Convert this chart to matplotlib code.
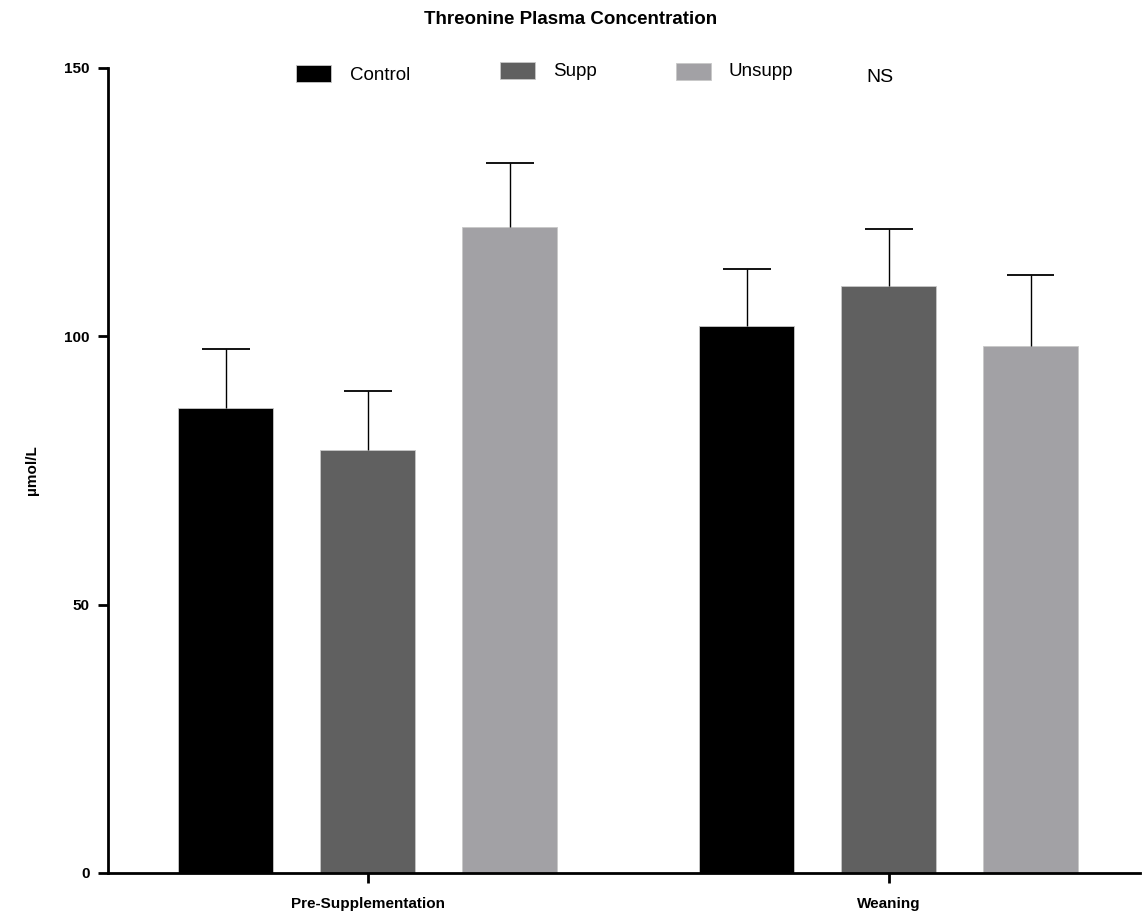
import matplotlib.pyplot as plt
import numpy as np
from matplotlib.patches import Rectangle

plt.rcParams["font.family"] = ["Liberation Sans", "DejaVu Sans"]

# Data
groups = ["Pre-Supplementation", "Weaning"]
series = ["Control", "Supp", "Unsupp"]
means = {
    "Control": [86.6, 101.9],
    "Supp": [78.8, 109.4],
    "Unsupp": [120.4, 98.2],
}
errors = {
    "Control": [11.0, 10.6],
    "Supp": [11.0, 10.6],
    "Unsupp": [11.9, 13.2],
}
colors = {"Control": "#000000", "Supp": "#606060", "Unsupp": "#a2a1a5"}

W, H = 1142, 917
fig = plt.figure(figsize=(W / 100, H / 100), dpi=100)
ax = fig.add_axes([108 / W, 44 / H, 1032 / W, 805 / H])

centers = np.array([0.0, 3.67])
width = 0.67
for i, s in enumerate(series):
    x = centers + (i - 1) * 1.0
    y = np.array(means[s])
    top = y + np.array(errors[s])
    ax.bar(x, y, width=width, color=colors[s], edgecolor="#c8c8c8",
           linewidth=0.6, zorder=2)
    # upper-only error bars
    ax.vlines(x, y, top, color="black", linewidth=1.0, zorder=3)
    ax.hlines(top, x - width / 4, x + width / 4, color="black", linewidth=1.3, zorder=3)

ax.set_xlim(-1.83, 5.44)
ax.set_ylim(0, 150)
ax.set_yticks([0, 50, 100, 150])
ax.set_xticks(centers)
ax.set_xticklabels(groups, fontsize=11, fontweight="bold")
ax.tick_params(axis="y", labelsize=11, width=2, length=7, direction="out", pad=6)
for lbl in ax.get_yticklabels():
    lbl.set_fontweight("bold")
ax.tick_params(axis="x", width=2, length=7, direction="out", pad=10)
for side in ["top", "right"]:
    ax.spines[side].set_visible(False)
ax.spines["left"].set_linewidth(2)
ax.spines["bottom"].set_linewidth(2)

ax.set_ylabel("µmol/L", fontsize=11, fontweight="bold", labelpad=18)

fig.text(0.5, 1 - 20 / H, "Threonine Plasma Concentration", ha="center",
         va="center", fontsize=13.5, fontweight="bold")

# legend row drawn in figure pixels
leg_box_x = [296, 500, 676]
leg_box_y = [73, 70, 71]
leg_text_x = [350, 553, 728]
leg_text_y = [75, 71, 71]
for s, bx, by, tx, ty in zip(series, leg_box_x, leg_box_y, leg_text_x, leg_text_y):
    fig.patches.append(Rectangle((bx / W, 1 - (by + 8.5) / H), 35 / W, 17 / H,
                                 transform=fig.transFigure, facecolor=colors[s],
                                 edgecolor="#c8c8c8", linewidth=0.6))
    fig.text(tx / W, 1 - ty / H, s, ha="left", va="center", fontsize=13.5)
fig.text(866 / W, 1 - 77 / H, "NS", ha="left", va="center", fontsize=14)

fig.savefig("out.png", dpi=100)
